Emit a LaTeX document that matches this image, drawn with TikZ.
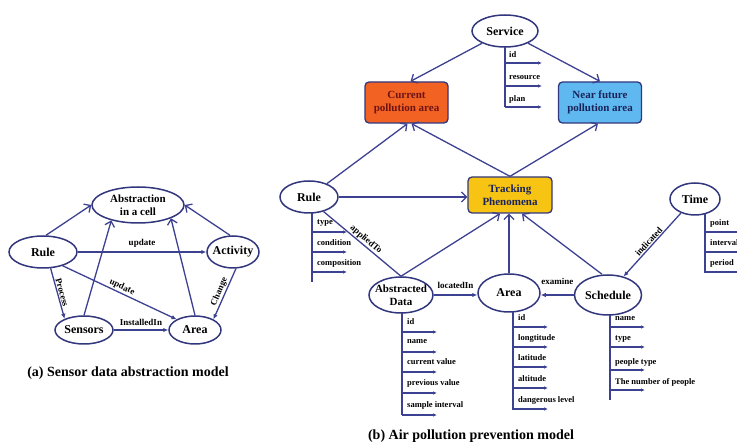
\documentclass[tikz,border=0pt]{standalone}
\usepackage{fontspec}
\setmainfont{Liberation Serif}
\usetikzlibrary{shapes.geometric,arrows.meta}
\definecolor{navy}{RGB}{50,55,125}
\definecolor{lineblue}{RGB}{60,65,145}
\definecolor{orangefill}{RGB}{242,98,34}
\definecolor{bluefill}{RGB}{95,185,240}
\definecolor{goldfill}{RGB}{247,196,20}
\definecolor{darkred}{RGB}{110,20,20}
\definecolor{darknavy}{RGB}{25,35,90}
\begin{document}
\begin{tikzpicture}[x=1pt,y=-1pt,
  ent/.style={ellipse, draw=navy, line width=1.5pt, fill=white, inner sep=0pt},
  etxt/.style={font=\bfseries\fontsize{12}{13}\selectfont, align=center, inner sep=0pt},
  box/.style={rectangle, rounded corners=4pt, draw=navy, line width=1.3pt, minimum width=83pt, minimum height=41pt, align=center, font=\bfseries\fontsize{11}{13}\selectfont},
  link/.style={draw=lineblue, line width=1.3pt, -{Straight Barb[length=5pt,width=10pt]}},
  flink/.style={draw=lineblue, line width=1.3pt, -{Latex[length=5pt,width=4.5pt]}},
  lineonly/.style={draw=lineblue, line width=1.3pt},
  attrline/.style={draw=lineblue, line width=1.2pt},
  attr/.style={draw=lineblue, line width=1.2pt, -{Latex[length=4pt,width=3.5pt]}},
  lbl/.style={font=\bfseries\fontsize{9}{9}\selectfont, inner sep=1pt},
  alb/.style={font=\bfseries\fontsize{8.5}{9}\selectfont, anchor=west, inner sep=0pt},
]
\useasboundingbox (0,0) rectangle (737,443);
\clip (0,0) rectangle (737,443);

% ---------------- (a) left model ----------------
\node[ent, minimum width=92pt, minimum height=36pt] (abs) at (138,205) {};
\node[etxt, font=\bfseries\fontsize{11}{13}\selectfont] at (abs) {Abstraction\\in a cell};
\node[ent, minimum width=68pt, minimum height=32pt] (ruleL) at (43,252) {};
\node[etxt] at (ruleL) {Rule};
\node[ent, minimum width=52pt, minimum height=32pt] (act) at (233,252) {};
\node[etxt] at (act) {Activity};
\node[ent, minimum width=58pt, minimum height=28pt] (sen) at (84,330) {};
\node[etxt] at (sen) {Sensors};
\node[ent, minimum width=52pt, minimum height=28pt] (areaL) at (195,330) {};
\node[etxt] at (areaL) {Area};

\draw[link] (ruleL.80) -- (abs.west);
\draw[link] (act.100) -- (abs.east);
\draw[link] (sen.north) -- (abs.210);
\draw[link] (areaL.north) -- (abs.338);
\draw[flink] (ruleL.east) -- node[lbl, above=3pt] {update} (act.west);
\draw[flink] (ruleL.-35) -- node[lbl, sloped, above, pos=0.5] {update} (areaL.150);
\draw[flink] (ruleL.-65) -- node[lbl, sloped, above, pos=0.5] {Process} (sen.150);
\draw[flink] (act.-80) -- node[lbl, sloped, above, pos=0.5] {Change} (areaL.30);
\draw[flink] (sen.east) -- node[lbl, above=3pt] {InstalledIn} (areaL.west);

\node[font=\bfseries\fontsize{14}{14}\selectfont] (capA) at (128,373) {(a) Sensor data abstraction model};

% ---------------- (b) right model ----------------
\node[ent, minimum width=66pt, minimum height=32pt] (svc) at (505,31) {};
\node[etxt] at (svc) {Service};
\node[box, fill=orangefill, text=darkred] (cur) at (406.5,102.5) {Current\\pollution area};
\node[box, fill=bluefill, text=darknavy] (near) at (600,102.5) {Near future\\pollution area};
\node[box, fill=goldfill, text=darknavy, minimum width=84pt, minimum height=36pt] (trk) at (510,195) {Tracking\\Phenomena};
\node[ent, minimum width=58pt, minimum height=32pt] (ruleR) at (309,197) {};
\node[etxt] at (ruleR) {Rule};
\node[ent, minimum width=64pt, minimum height=36pt] (ad) at (401,295) {};
\node[etxt, font=\bfseries\fontsize{11}{13}\selectfont] at (ad) {Abstracted\\Data};
\node[ent, minimum width=62pt, minimum height=38pt] (areaR) at (509,293) {};
\node[etxt] at (areaR) {Area};
\node[ent, minimum width=67pt, minimum height=40pt] (sch) at (608,295) {};
\node[etxt] at (sch) {Schedule};
\node[ent, minimum width=50pt, minimum height=32pt] (time) at (695,199) {};
\node[etxt] at (time) {Time};

\draw[link] (svc) -- ([xshift=4pt]cur.north);
\draw[link] (svc) -- (near.north);
\draw[link] (ruleR) -- ([xshift=1pt]cur.south);
\draw[link] (trk.north) -- ([xshift=5pt]cur.south);
\draw[link] (trk.north) -- ([xshift=-2pt]near.south);
\draw[link] (ruleR.east) -- (ruleR.east -| trk.west);
\draw[link] (ad.north) -- ([xshift=-10pt]trk.south);
\draw[link] (areaR.north) -- (areaR.north |- trk.south);
\draw[link] ([xshift=-6pt]sch.north) -- ([xshift=12pt]trk.south);
\draw[lineonly] (ruleR.-45) -- node[lbl, sloped, above, pos=0.5] {appliedTo} (ad.north);
\draw[flink] (ad.east) -- node[lbl, above=5pt] {locatedIn} (ad.east -| areaR.west);
\draw[flink] (sch.west) -- node[lbl, above=9pt] {examine} (sch.west -| areaR.east);
\draw[flink] (time.225) -- node[lbl, sloped, above, pos=0.5] {indicated} (sch.50);

% attribute lists
\coordinate (svcA) at (505,47);
\draw[attrline] (svcA) -- (505,107);
\foreach \y/\t in {63/id, 86/resource, 107/plan} {
  \draw[attr] (505,\y) -- (542,\y);
  \node[alb] at (509,\y-8) {\t};
}
\coordinate (ruleA) at (312,213);
\draw[attrline] (ruleA) -- (312,282);
\foreach \y/\t in {232/type, 252/condition, 272/composition} {
  \draw[attr] (312,\y) -- (347,\y);
  \node[alb] at (317,\y-9) {\t};
}
\coordinate (adA) at (402,313);
\draw[attrline] (adA) -- (402,415);
\foreach \y/\t in {332/id, 352/name, 372/current value, 393/previous value, 415/sample interval} {
  \draw[attr] (402,\y) -- (437,\y);
  \node[alb] at (407,\y-10) {\t};
}
\coordinate (areaA) at (513,312);
\draw[attrline] (areaA) -- (513,410);
\foreach \y/\t in {327/id, 347/longtitude, 367/latitude, 388/altitude, 409/dangerous level} {
  \draw[attr] (513,\y) -- (548,\y);
  \node[alb] at (518,\y-9) {\t};
}
\coordinate (schA) at (610,315);
\draw[attrline] (schA) -- (610,400);
\foreach \y/\t in {327/name, 347/type, 370/people type, 390/The number of people} {
  \draw[attr] (610,\y) -- (645,\y);
  \node[alb] at (615,\y-8) {\t};
}
\coordinate (timeA) at (705,214);
\draw[attrline] (timeA) -- (705,273);
\foreach \y/\t in {232/point, 252/interval, 272/period} {
  \draw[attr] (705,\y) -- (742,\y);
  \node[alb] at (710,\y-9) {\t};
}

\node[font=\bfseries\fontsize{14}{14}\selectfont] (capB) at (471,436) {(b) Air pollution prevention model};
\end{tikzpicture}
\end{document}
